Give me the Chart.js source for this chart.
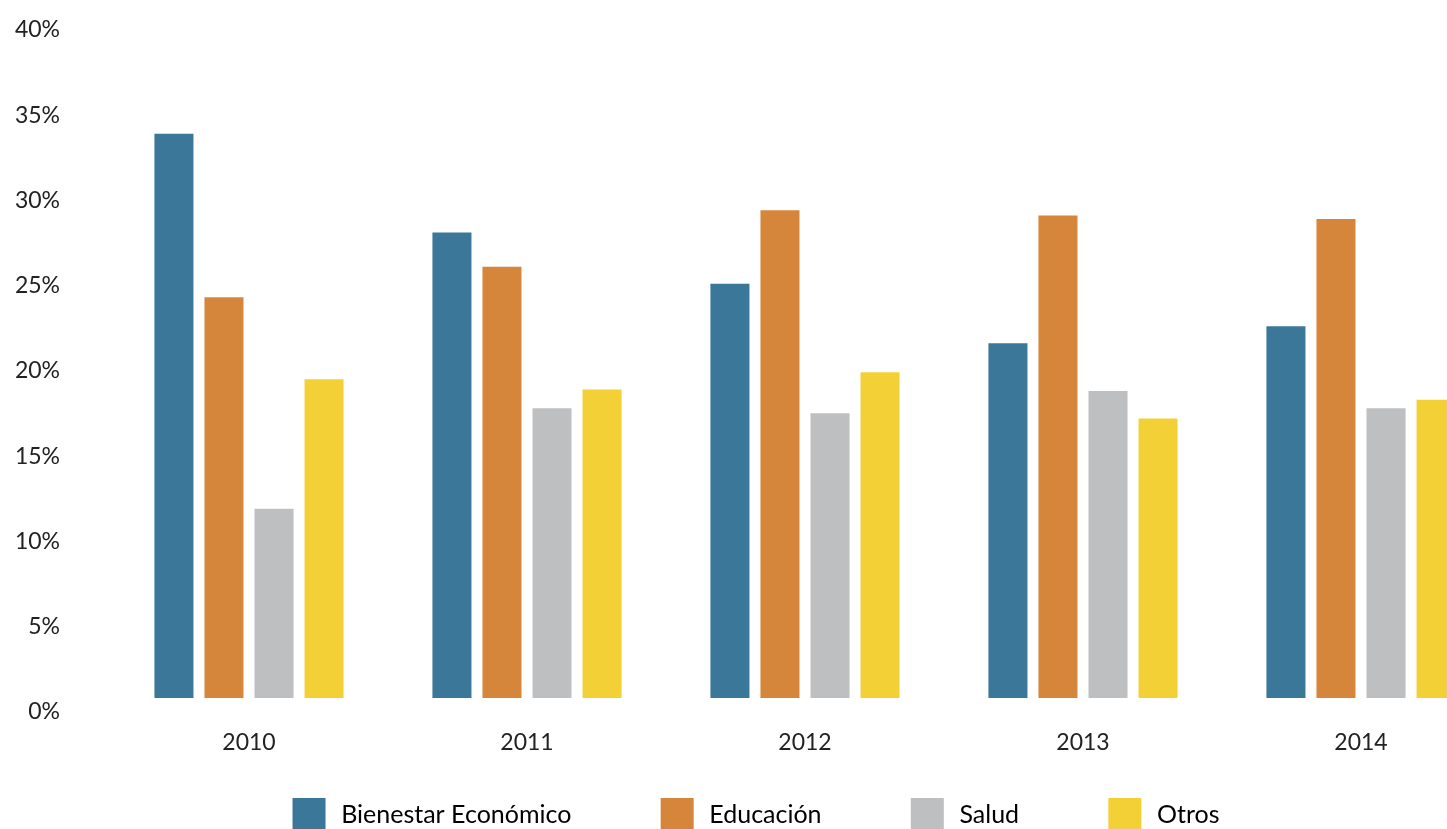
<!DOCTYPE html>
<html>
<head>
    <meta charset="utf-8">
    <title>Distribución por área</title>
    <script src="https://cdn.jsdelivr.net/npm/chart.js@4.4.1/dist/chart.umd.min.js"></script>
    <style>
        html, body { margin: 0; padding: 0; background: #fff; overflow: hidden; }
        #wrap { width: 1500px; height: 841px; }
    </style>
</head>
<body>

<div id="wrap"><canvas id="grafica" width="1500" height="841"></canvas></div>

<script>
    // datos (en %)
    var anios = ['2010', '2011', '2012', '2013', '2014'];
    var bienestar = [33.1, 27.3, 24.3, 20.8, 21.8];
    var educacion = [23.5, 25.3, 28.6, 28.3, 28.1];
    var salud = [11.1, 17.0, 16.7, 18.0, 17.0];
    var otros = [18.7, 18.1, 19.1, 16.4, 17.5];
    var etiquetas = ['Bienestar Económico', 'Educación', 'Salud', 'Otros'];
    var colores = ['#3b7799', '#d6863b', '#bebfc1', '#f4d037'];

    var fuente = 'Lato, "Open Sans", sans-serif';
    var series = [bienestar, educacion, salud, otros];

    var ctx = document.getElementById('grafica').getContext('2d');
    var grafica = new Chart(ctx, {
        type: 'bar',
        data: {
            labels: anios,
            datasets: series.map(function (s, i) {
                return {
                    label: etiquetas[i],
                    data: s,
                    backgroundColor: colores[i],
                    borderWidth: 0,
                    barPercentage: 0.78,
                    categoryPercentage: 0.72
                };
            })
        },
        options: {
            responsive: false,
            animation: false,
            devicePixelRatio: 1,
            layout: { padding: { top: 16, left: 12, right: 0, bottom: 0 } },
            scales: {
                x: {
                    grid: { display: false, drawTicks: false },
                    border: { display: false },
                    ticks: { color: '#222', padding: 31, font: { family: fuente, size: 23 } },
                    afterFit: function (s) { s.height = 67; }
                },
                y: {
                    min: 0,
                    max: 40,
                    grid: { display: false, drawTicks: false },
                    border: { display: false },
                    ticks: {
                        stepSize: 5,
                        color: '#222',
                        padding: 50,
                        labelOffset: 14,
                        font: { family: fuente, size: 23 },
                        callback: function (v) { return v + '%'; }
                    },
                    afterFit: function (s) {
                        s.width = 98;
                        s.paddingTop = 0;
                        s.paddingBottom = 0;
                    }
                }
            },
            plugins: {
                tooltip: { enabled: false },
                legend: {
                    position: 'bottom',
                    labels: {
                        boxWidth: 33,
                        boxHeight: 33,
                        padding: 33,
                        color: '#222',
                        font: { family: fuente, size: 25 },
                        generateLabels: function (chart) {
                            var n = chart.data.datasets.length;
                            return chart.data.datasets.map(function (d, i) {
                                // espacio extra entre elementos de la leyenda
                                var cola = i < n - 1 ? '\u2003\u2003\u2003' : '';
                                return {
                                    text: '\u2009' + d.label + cola,
                                    fillStyle: d.backgroundColor,
                                    strokeStyle: d.backgroundColor,
                                    lineWidth: 0,
                                    datasetIndex: i,
                                    hidden: false
                                };
                            });
                        }
                    }
                }
            }
        }
    });
</script>

</body>
</html>
